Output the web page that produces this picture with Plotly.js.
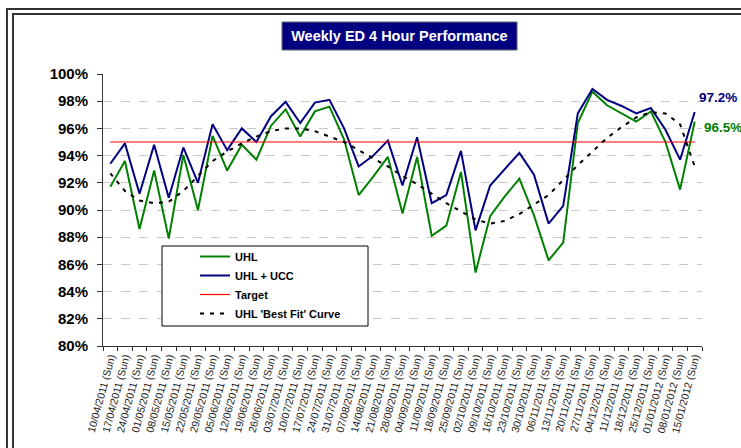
<!DOCTYPE html>
<html>
<head>
<meta charset="utf-8">
<script src="https://cdn.plot.ly/plotly-3.0.1.min.js"></script>
<style>
html,body{margin:0;padding:0;background:#fff;overflow:hidden;}
#chart{width:741px;height:448px;position:absolute;left:0;top:0;}
.frame{position:absolute;border:2px solid #333;pointer-events:none;width:900px;height:600px;}
</style>
</head>
<body>
<div id="chart"></div>
<div class="frame" style="left:6px;top:8px;"></div>
<div class="frame" style="left:12px;top:13px;"></div>
<script>
var categories = [
"10/04/2011 (Sun)","17/04/2011 (Sun)","24/04/2011 (Sun)","01/05/2011 (Sun)","08/05/2011 (Sun)",
"15/05/2011 (Sun)","22/05/2011 (Sun)","29/05/2011 (Sun)","05/06/2011 (Sun)","12/06/2011 (Sun)",
"19/06/2011 (Sun)","26/06/2011 (Sun)","03/07/2011 (Sun)","10/07/2011 (Sun)","17/07/2011 (Sun)",
"24/07/2011 (Sun)","31/07/2011 (Sun)","07/08/2011 (Sun)","14/08/2011 (Sun)","21/08/2011 (Sun)",
"28/08/2011 (Sun)","04/09/2011 (Sun)","11/09/2011 (Sun)","18/09/2011 (Sun)","25/09/2011 (Sun)",
"02/10/2011 (Sun)","09/10/2011 (Sun)","16/10/2011 (Sun)","23/10/2011 (Sun)","30/10/2011 (Sun)",
"06/11/2011 (Sun)","13/11/2011 (Sun)","20/11/2011 (Sun)","27/11/2011 (Sun)","04/12/2011 (Sun)",
"11/12/2011 (Sun)","18/12/2011 (Sun)","25/12/2011 (Sun)","01/01/2012 (Sun)","08/01/2012 (Sun)",
"15/01/2012 (Sun)"];

var uhl = [91.7,93.6,88.6,92.9,87.9,94.05,90.0,95.45,92.9,94.8,
93.7,96.2,97.4,95.4,97.25,97.6,95.2,91.1,92.45,93.9,
89.75,93.9,88.1,88.85,92.8,85.4,89.55,91.0,92.3,89.6,
86.3,87.6,96.4,98.7,97.7,97.1,96.5,97.25,95.0,91.5,
96.5];

var uhlUcc = [93.4,94.9,91.2,94.8,90.9,94.6,92.0,96.3,94.4,96.0,
95.0,96.9,97.95,96.4,97.9,98.1,96.0,93.2,94.0,95.1,
91.8,95.35,90.5,91.1,94.35,88.5,91.8,93.0,94.2,92.6,
89.0,90.3,97.1,98.9,98.1,97.65,97.1,97.5,95.9,93.7,
97.2];

var target = [95,95,95,95,95,95,95,95,95,95,95,95,95,95,95,95,95,95,95,95,
95,95,95,95,95,95,95,95,95,95,95,95,95,95,95,95,95,95,95,95,95];

var bestFit = [92.7,91.4,90.7,90.5,90.6,91.4,92.5,93.6,94.3,94.9,
95.4,95.8,96.0,96.0,95.8,95.4,95.0,94.4,93.8,93.2,
92.5,91.9,91.2,90.5,89.9,89.3,89.0,89.2,89.7,90.4,
91.1,92.2,93.3,94.3,95.3,96.1,96.8,97.2,97.1,96.3,
93.2];

var yTickVals = [80,82,84,86,88,90,92,94,96,98,100];
var yTickText = ["80%","82%","84%","86%","88%","90%","92%","94%","96%","98%","100%"];

var FONT = "Liberation Sans, Arial, sans-serif";
var GREEN = "#008000", NAVY = "#000080";

var traces = [
  {x: categories, y: uhl, name: "UHL", type: "scatter", mode: "lines",
   line: {color: GREEN, width: 2}},
  {x: categories, y: uhlUcc, name: "UHL + UCC", type: "scatter", mode: "lines",
   line: {color: NAVY, width: 2}},
  {x: categories, y: target, name: "Target", type: "scatter", mode: "lines",
   line: {color: "#ff0000", width: 1.2}},
  {x: categories, y: bestFit, name: "UHL 'Best Fit' Curve", type: "scatter", mode: "lines",
   line: {color: "#000000", width: 2, dash: "4px,6px"}}
];

var last = categories.length - 1;
var PW = 599, PH = 272, PL = 103, PB = 346;
function px(x) { return (x - PL) / PW; }
function py(y) { return (PB - y) / PH; }

var layout = {
  width: 741, height: 448,
  margin: {l: 103, r: 39, t: 74, b: 102, pad: 0},
  paper_bgcolor: "#ffffff", plot_bgcolor: "#ffffff",
  font: {family: FONT, color: "#000"},
  showlegend: true,
  title: {text: "<b>Weekly ED 4 Hour Performance</b>",
          font: {family: FONT, size: 14.5, color: "#ffffff"},
          xref: "container", yref: "container", x: 0.539, y: 0.92,
          xanchor: "center", yanchor: "middle"},
  shapes: [
    {type: "rect", xref: "paper", yref: "paper",
     x0: px(282), x1: px(517), y0: py(50), y1: py(22),
     fillcolor: NAVY, line: {color: "#666", width: 1}, layer: "above"},
    {type: "rect", xref: "paper", yref: "paper",
     x0: px(162), x1: px(368), y0: py(326), y1: py(246),
     fillcolor: "#ffffff", line: {color: "#000", width: 1}, layer: "above"}
  ],
  xaxis: {type: "category", range: [-0.5, 40.5], autorange: false,
          showgrid: false, zeroline: false,
          showline: true, linecolor: "#333", linewidth: 1,
          ticks: "outside", ticklen: 4, tickcolor: "#333", tickson: "boundaries",
          tickangle: -75, tickfont: {family: FONT, size: 10.5, color: "#222"},
          automargin: false},
  yaxis: {range: [80, 100], autorange: false, tickvals: yTickVals, ticktext: yTickText,
          showgrid: true, gridcolor: "#c8c8c8", griddash: "dash", gridwidth: 1,
          zeroline: false, showline: true, linecolor: "#333", linewidth: 1,
          ticks: "outside", ticklen: 5, tickcolor: "#333",
          tickfont: {family: FONT, size: 15, color: "#000", weight: "bold"},
          ticklabelstandoff: 6, automargin: false},
  legend: {x: px(195), y: py(242), xanchor: "left", yanchor: "top",
           bgcolor: "rgba(0,0,0,0)", borderwidth: 0,
           font: {family: FONT, size: 11, color: "#000", weight: "bold"},
           traceorder: "normal"},
  annotations: [
    {x: categories[last], y: uhlUcc[last], xref: "x", yref: "y",
     text: "<b>" + uhlUcc[last].toFixed(1) + "%</b>", showarrow: false,
     xshift: 23, yshift: 15, font: {family: FONT, size: 13.5, color: NAVY}},
    {x: categories[last], y: uhl[last], xref: "x", yref: "y",
     text: "<b>" + uhl[last].toFixed(1) + "%</b>", showarrow: false,
     xshift: 28, yshift: -6, font: {family: FONT, size: 13.5, color: GREEN}}
  ]
};

Plotly.newPlot("chart", traces, layout, {displayModeBar: false, staticPlot: true});
</script>
</body>
</html>
